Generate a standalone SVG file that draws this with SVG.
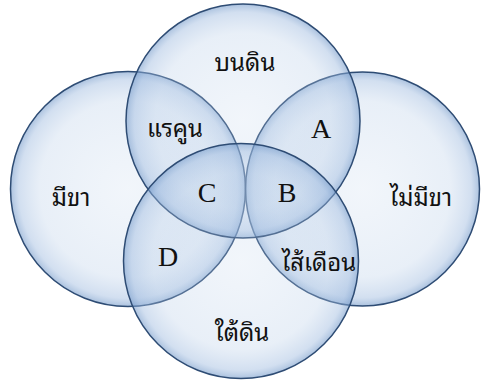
<svg xmlns="http://www.w3.org/2000/svg" width="486" height="382" viewBox="0 0 486 382">
<defs>
<radialGradient id="g" cx="0.5" cy="0.5" r="0.5">
<stop offset="0" stop-color="#c2d5ec" stop-opacity="0.22"/>
<stop offset="0.75" stop-color="#b3cae6" stop-opacity="0.3"/>
<stop offset="0.93" stop-color="#9bb8de" stop-opacity="0.45"/>
<stop offset="1" stop-color="#7399c9" stop-opacity="0.6"/>
</radialGradient>
<style>
.c{fill:url(#g);stroke:#2e4c74;stroke-width:1.5}
.t{font-family:"Noto Sans Thai Looped","Tahoma","Loma","Garuda","Noto Sans Thai","DejaVu Sans",sans-serif;font-size:24px;fill:#111;text-anchor:middle}
.l{font-family:"Liberation Serif","Times New Roman",serif;font-size:28px;fill:#111;text-anchor:middle}
</style>
</defs>
<rect width="486" height="382" fill="#fff"/>
<g id="circle-left"><circle class="c" cx="128" cy="189" r="117.5"/></g>
<g id="circle-right"><circle class="c" cx="362.5" cy="189" r="117"/></g>
<g id="circle-top"><circle class="c" cx="243" cy="121" r="117"/></g>
<g id="circle-bottom"><circle class="c" cx="241" cy="261" r="117.5"/></g>
<g id="labels">
<text class="t" x="245" y="71">บนดิน</text>
<text class="t" x="175" y="137">แรคูน</text>
<text class="l" x="321" y="138">A</text>
<text class="t" x="71" y="206">มีขา</text>
<text class="l" x="207" y="202">C</text>
<text class="l" x="287" y="202">B</text>
<text class="t" x="421" y="206">ไม่มีขา</text>
<text class="l" x="168" y="266">D</text>
<text class="t" x="319" y="271">ไส้เดือน</text>
<text class="t" x="242" y="341">ใต้ดิน</text>
</g>
</svg>
